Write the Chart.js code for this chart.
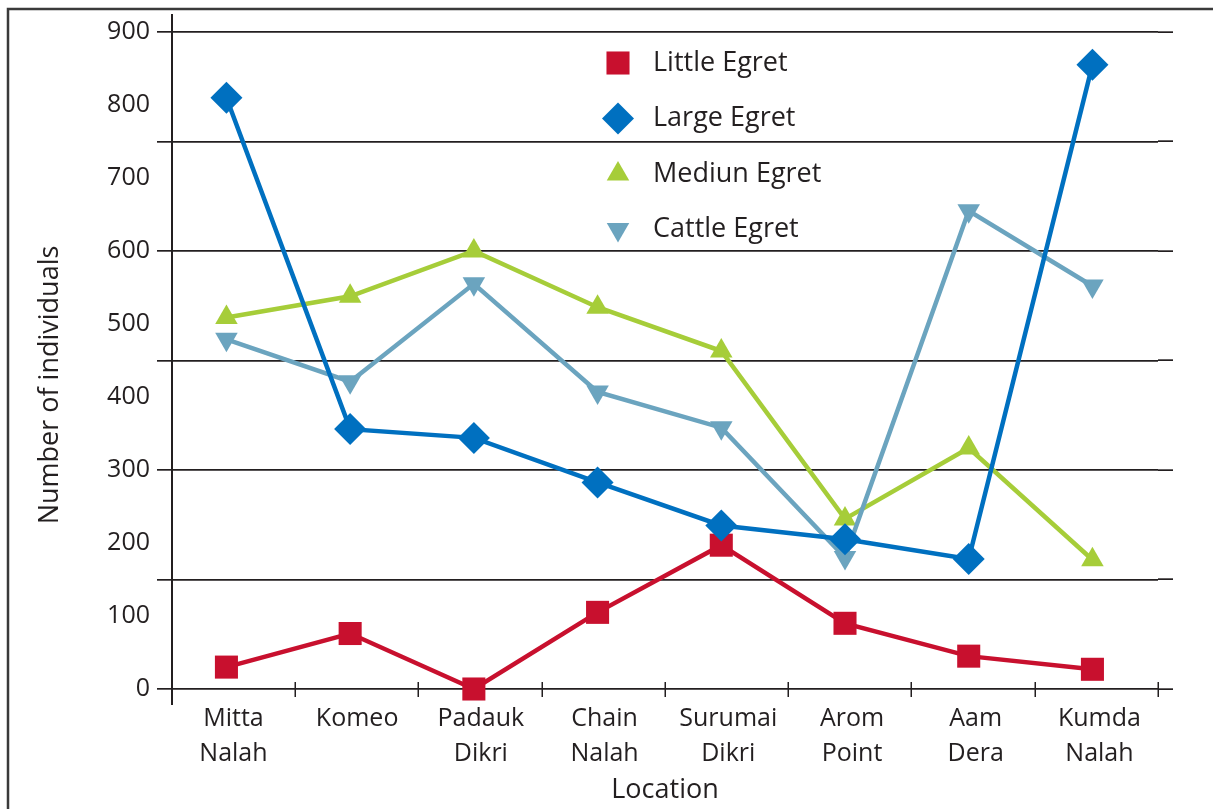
<!DOCTYPE html>
<html>
<head>
<meta charset="utf-8">
<title>Egrets by location</title>
<script src="https://cdn.jsdelivr.net/npm/chart.js@4.4.1/dist/chart.umd.min.js"></script>
<style>
	html, body { margin: 0; padding: 0; background: #fff; overflow: hidden; }
	#wrap { position: relative; width: 1213px; height: 809px; }
</style>
</head>
<body>
<div id="wrap"><canvas id="egret-chart" width="1213" height="809"></canvas></div>
<script>
// locations along the x axis (two-line labels)
var locations = [
	["Mitta", "Nalah"], ["Komeo"], ["Padauk", "Dikri"], ["Chain", "Nalah"],
	["Surumai", "Dikri"], ["Arom", "Point"], ["Aam", "Dera"], ["Kumda", "Nalah"]
];
var seriesNames = ["Little Egret", "Large Egret", "Mediun Egret", "Cattle Egret"];

// counts
var littleEgret = [30, 76, 0, 105, 197, 90, 45, 27];
var largeEgret = [810, 356, 344, 283, 224, 205, 178, 855];
var mediumEgret = [509, 538, 600, 523, 463, 233, 330, 177];
var cattleEgret = [479, 421, 555, 407, 358, 180, 655, 552];

// y axis: labels every 100, rules every 150
var yMax = 900;
var yLabelStep = 100;
var yRuleStep = 150;

// x axis: points sit a little left of each slot's middle (as in the original)
var xMin = -0.44;
var xMax = 7.53;

var ink = "#231f20";
var fontFamily = "'Open Sans', 'DejaVu Sans', sans-serif";

Chart.defaults.font.family = fontFamily;
Chart.defaults.color = ink;

function alignLine(p, w) {
	return Math.round(p + w / 2) - w / 2;
}

function toPoints(values) {
	return values.map(function (v, i) { return { x: i, y: v }; });
}

// frame, extended y axis, slot tick marks and right-hand rule stubs
var axesPlugin = {
	id: "axesExtras",
	beforeDraw: function (chart) {
		var ctx = chart.ctx;
		ctx.save();
		ctx.fillStyle = "#fff";
		ctx.fillRect(0, 0, chart.width, chart.height);
		ctx.strokeStyle = "#3a3a3a";
		ctx.lineWidth = 2.5;
		ctx.strokeRect(8, 9, chart.width + 20, chart.height + 20);
		ctx.restore();
	},
	beforeDatasetsDraw: function (chart) {
		var ctx = chart.ctx;
		var area = chart.chartArea;
		var ys = chart.scales.y;
		ctx.save();
		ctx.strokeStyle = ink;

		// rules run 15px past the plot on the right
		ctx.lineWidth = 1.7;
		ys.ticks.forEach(function (t) {
			if (t.value % yRuleStep !== 0) return;
			var y = alignLine(ys.getPixelForValue(t.value), 1.7);
			ctx.beginPath();
			ctx.moveTo(area.right, y);
			ctx.lineTo(area.right + 15, y);
			ctx.stroke();
		});

		// y axis line, a bit longer than the plot
		ctx.lineWidth = 2;
		var x0 = alignLine(area.left, 2);
		ctx.beginPath();
		ctx.moveTo(x0, area.top - 18);
		ctx.lineTo(x0, area.bottom + 16);
		ctx.stroke();

		// tick marks between location slots
		var step = (area.right - area.left) / locations.length;
		ctx.lineWidth = 1.5;
		for (var i = 1; i <= locations.length; i++) {
			var bx = alignLine(area.left + i * step, 1.5);
			ctx.beginPath();
			ctx.moveTo(bx, area.bottom - 7);
			ctx.lineTo(bx, area.bottom + 8);
			ctx.stroke();
		}

		// y title
		ctx.fillStyle = ink;
		ctx.font = "27px " + fontFamily;
		ctx.textAlign = "center";
		ctx.textBaseline = "middle";
		ctx.translate(50, 385);
		ctx.rotate(-Math.PI / 2);
		ctx.fillText("Number of individuals", 0, 0);
		ctx.restore();
	}
};

// legend sits inside the plot, over the rules
var legendPlugin = {
	id: "insideLegend",
	afterDraw: function (chart) {
		var ctx = chart.ctx;
		var markerX = 618, textX = 653, rowY = 63, rowGap = 55.5;
		ctx.save();
		chart.data.datasets.forEach(function (ds, i) {
			var y = rowY + i * rowGap;
			ctx.fillStyle = ds.backgroundColor;
			ctx.strokeStyle = ds.backgroundColor;
			if (Chart.helpers && Chart.helpers.drawPoint) {
				Chart.helpers.drawPoint(ctx, {
					pointStyle: ds.pointStyle,
					radius: ds.pointRadius,
					rotation: ds.pointRotation || 0,
					borderWidth: 0
				}, markerX, y);
			} else {
				ctx.fillRect(markerX - 11, y - 11, 22, 22);
			}
			ctx.fillStyle = ink;
			ctx.font = "27px " + fontFamily;
			ctx.textAlign = "left";
			ctx.textBaseline = "middle";
			ctx.fillText(ds.label, textX, y);
		});
		ctx.restore();
	}
};

function makeSeries(name, values, colour, style, radius, rotation, order) {
	return {
		label: name,
		data: toPoints(values),
		borderColor: colour,
		backgroundColor: colour,
		pointBackgroundColor: colour,
		pointBorderWidth: 0,
		pointStyle: style,
		pointRadius: radius,
		pointHoverRadius: radius,
		pointRotation: rotation,
		borderWidth: 4.5,
		tension: 0,
		fill: false,
		clip: false,
		order: order
	};
}

var ctx = document.getElementById("egret-chart").getContext("2d");
var chart = new Chart(ctx, {
	type: "line",
	data: {
		datasets: [
			makeSeries(seriesNames[0], littleEgret, "#c8102e", "rect", 16.3, 0, 1),
			makeSeries(seriesNames[1], largeEgret, "#0070c0", "rectRot", 16, 0, 0),
			makeSeries(seriesNames[2], mediumEgret, "#a6cd39", "triangle", 13, 0, 3),
			makeSeries(seriesNames[3], cattleEgret, "#6ba4bf", "triangle", 13, 180, 2)
		]
	},
	options: {
		responsive: false,
		animation: false,
		layout: { padding: { top: 32, right: 55, left: 0, bottom: 0 } },
		plugins: {
			legend: { display: false },
			tooltip: { enabled: false }
		},
		scales: {
			x: {
				type: "linear",
				min: xMin,
				max: xMax,
				grid: { display: false, drawTicks: false },
				border: { display: false },
				afterBuildTicks: function (scale) {
					scale.ticks = locations.map(function (l, i) { return { value: i }; });
				},
				ticks: {
					padding: 12,
					autoSkip: false,
					maxRotation: 0,
					labelOffset: 7,
					color: ink,
					font: { size: 25, lineHeight: 1.42 },
					callback: function (v) { return locations[v] || ""; }
				},
				title: {
					display: true,
					text: "Location",
					color: ink,
					font: { size: 27 },
					padding: { top: 0, bottom: 2 }
				},
				afterFit: function (scale) { scale.height = 120; }
			},
			y: {
				min: 0,
				max: yMax,
				ticks: {
					stepSize: yLabelStep / 2,
					autoSkip: false,
					padding: 7,
					color: ink,
					font: { size: 25 },
					callback: function (v) { return v % yLabelStep === 0 ? String(v) : ""; }
				},
				grid: {
					lineWidth: 1.7,
					tickLength: 15,
					color: function (c) {
						return c.tick && c.tick.value % yRuleStep === 0 ? ink : "rgba(0,0,0,0)";
					}
				},
				border: { display: false },
				afterFit: function (scale) { scale.width = 172; }
			}
		}
	},
	plugins: [axesPlugin, legendPlugin]
});
</script>
</body>
</html>
